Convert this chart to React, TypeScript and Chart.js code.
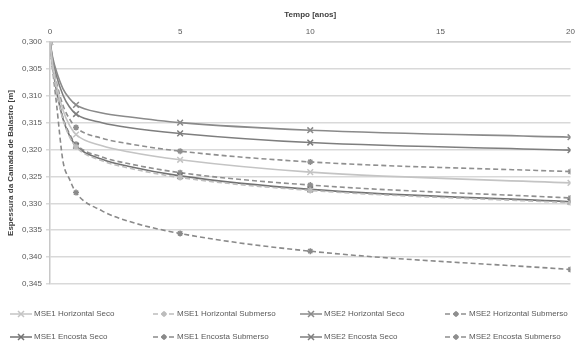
import React, { useEffect, useRef } from 'react';
import { Chart, registerables } from 'chart.js';

Chart.register(...registerables);

// Tempo [anos]
const times = [0, 0.1, 0.25, 0.5, 0.75, 1, 2, 3, 5, 10, 20];
// points that carry a marker (others only shape the curve)
const markerTimes = [0, 1, 5, 10, 20];

// Espessura da Camada de Balastro [m]
const mse1HorizontalSeco = [0.3, 0.3041, 0.3081, 0.3127, 0.3155, 0.3172, 0.3193, 0.3204, 0.3219, 0.3242, 0.3262];
const mse1HorizontalSubmerso = [0.3, 0.3047, 0.3092, 0.3144, 0.3176, 0.3195, 0.3221, 0.3234, 0.3252, 0.3276, 0.3299];
const mse2HorizontalSeco = [0.3, 0.3028, 0.3055, 0.3087, 0.3105, 0.3117, 0.3132, 0.3139, 0.315, 0.3164, 0.3177];
const mse2HorizontalSubmerso = [0.3, 0.3038, 0.3075, 0.3118, 0.3143, 0.3159, 0.3179, 0.3189, 0.3203, 0.3223, 0.3241];
const mse1EncostaSeco = [0.3, 0.3046, 0.3091, 0.3143, 0.3174, 0.3193, 0.3218, 0.3231, 0.3249, 0.3274, 0.3297];
const mse1EncostaSubmerso = [0.3, 0.305, 0.3115, 0.3222, 0.3255, 0.328, 0.3314, 0.3333, 0.3356, 0.3389, 0.3423];
const mse2EncostaSeco = [0.3, 0.3032, 0.3063, 0.3099, 0.3121, 0.3134, 0.315, 0.3159, 0.317, 0.3187, 0.3201];
const mse2EncostaSubmerso = [0.3, 0.3046, 0.3089, 0.3141, 0.3171, 0.319, 0.3214, 0.3226, 0.3243, 0.3266, 0.329];

const seriesLabels = [
  'MSE1 Horizontal Seco',
  'MSE1 Horizontal Submerso',
  'MSE2 Horizontal Seco',
  'MSE2 Horizontal Submerso',
  'MSE1 Encosta Seco',
  'MSE1 Encosta Submerso',
  'MSE2 Encosta Seco',
  'MSE2 Encosta Submerso',
];
const seriesValues = [
  mse1HorizontalSeco,
  mse1HorizontalSubmerso,
  mse2HorizontalSeco,
  mse2HorizontalSubmerso,
  mse1EncostaSeco,
  mse1EncostaSubmerso,
  mse2EncostaSeco,
  mse2EncostaSubmerso,
];

const xTickValues = [0, 5, 10, 15, 20];
const yMin = 0.3;
const yMax = 0.345;
const yStep = 0.005;

const seriesColors = ['#c4c4c4', '#bdbdbd', '#8a8a8a', '#8f8f8f', '#727272', '#8a8a8a', '#7e7e7e', '#8f8f8f'];
const seriesDashed = [false, true, false, true, false, true, false, true];

const FONT = '"Liberation Sans", Arial, sans-serif';

function drawMarker(ctx: CanvasRenderingContext2D, style: string, x: number, y: number, r: number) {
  ctx.beginPath();
  if (style === 'crossRot') {
    ctx.moveTo(x - r, y - r);
    ctx.lineTo(x + r, y + r);
    ctx.moveTo(x + r, y - r);
    ctx.lineTo(x - r, y + r);
  } else {
    ctx.moveTo(x - r, y);
    ctx.lineTo(x + r, y);
    ctx.moveTo(x, y - r);
    ctx.lineTo(x, y + r);
    ctx.moveTo(x - r * 0.6, y - r * 0.6);
    ctx.lineTo(x + r * 0.6, y + r * 0.6);
    ctx.moveTo(x + r * 0.6, y - r * 0.6);
    ctx.lineTo(x - r * 0.6, y + r * 0.6);
  }
  ctx.stroke();
}

const legendColX = [10, 153, 300, 445];
const legendRowY = [314, 337];

const customLegend = {
  id: 'customLegend',
  afterDraw(chart: any) {
    const ctx: CanvasRenderingContext2D = chart.ctx;
    chart.data.datasets.forEach((ds: any, i: number) => {
      const col = i % 4;
      const row = Math.floor(i / 4);
      const x0 = legendColX[col];
      const y = legendRowY[row];
      ctx.save();
      ctx.strokeStyle = ds.borderColor;
      ctx.lineWidth = 1.5;
      ctx.setLineDash(ds.borderDash || []);
      ctx.beginPath();
      ctx.moveTo(x0, y);
      ctx.lineTo(x0 + 22, y);
      ctx.stroke();
      ctx.setLineDash([]);
      drawMarker(ctx, ds.pointStyle, x0 + 11, y, 3);
      ctx.fillStyle = '#595959';
      ctx.font = '8px ' + FONT;
      ctx.textBaseline = 'middle';
      ctx.textAlign = 'left';
      ctx.fillText(ds.label, x0 + 24, y);
      ctx.restore();
    });
  },
};

export default function App() {
  const ref = useRef<HTMLCanvasElement | null>(null);

  useEffect(() => {
    if (!ref.current) return;
    const datasets = seriesLabels.map((label, i) => ({
      label,
      data: times.map((t, j) => ({ x: t, y: seriesValues[i][j] })),
      borderColor: seriesColors[i],
      backgroundColor: seriesColors[i],
      borderWidth: 1.6,
      borderDash: seriesDashed[i] ? [5, 3] : [],
      pointStyle: seriesDashed[i] ? 'star' : 'crossRot',
      pointRadius: times.map((t) => (markerTimes.includes(t) ? (seriesDashed[i] ? 3 : 4) : 0)),
      pointBorderColor: seriesColors[i],
      pointBackgroundColor: seriesColors[i],
      pointBorderWidth: 1.5,
      fill: false,
      cubicInterpolationMode: 'monotone' as const,
    }));

    const chart = new Chart(ref.current, {
      type: 'line',
      data: { datasets },
      plugins: [customLegend],
      options: {
        animation: false,
        responsive: false,
        devicePixelRatio: 1,
        layout: { padding: { left: 6, right: 3, top: 0, bottom: 61 } },
        plugins: {
          legend: { display: false },
          tooltip: { enabled: false },
        },
        scales: {
          x: {
            type: 'linear',
            position: 'top',
            min: 0,
            max: 20,
            afterBuildTicks: (scale: any) => {
              scale.ticks = xTickValues.map((v) => ({ value: v }));
            },
            afterFit: (scale: any) => {
              scale.height = 42;
            },
            ticks: {
              color: '#595959',
              font: { family: FONT, size: 8 },
              padding: -3,
              maxRotation: 0,
            },
            grid: { display: false },
            border: { display: true, color: '#d0d0d0', width: 1.5 },
            title: {
              display: true,
              text: 'Tempo [anos]',
              color: '#404040',
              font: { family: FONT, size: 8, weight: 'bold' },
              padding: { top: 10, bottom: 2 },
            },
          },
          y: {
            type: 'linear',
            reverse: true,
            min: yMin,
            max: yMax,
            ticks: {
              stepSize: yStep,
              color: '#595959',
              font: { family: FONT, size: 8 },
              padding: 4,
              callback: (v: any) => Number(v).toFixed(3).replace('.', ','),
            },
            afterFit: (scale: any) => {
              scale.width = 44;
            },
            grid: { color: '#d9d9d9', lineWidth: 1.5, tickLength: 4 },
            border: { display: true, color: '#c8c8c8', width: 1.5 },
            title: {
              display: true,
              text: 'Espessura da Camada de Balastro [m]',
              color: '#404040',
              font: { family: FONT, size: 8, weight: 'bold' },
              padding: { top: 0, bottom: 2 },
            },
          },
        },
      },
    });
    return () => chart.destroy();
  }, []);

  return (
    <div style={{ position: 'fixed', left: 0, top: 0, width: 576, height: 345, background: '#fff' }}>
      <canvas ref={ref} width={576} height={345} style={{ width: 576, height: 345, display: 'block' }} />
    </div>
  );
}
